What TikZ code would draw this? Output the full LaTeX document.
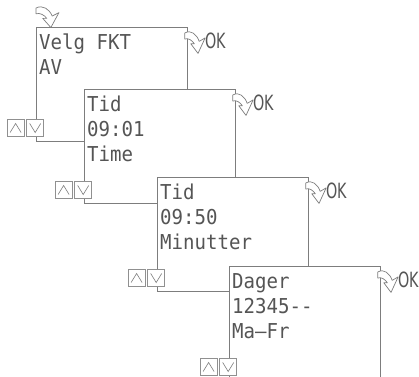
\documentclass[tikz,border=0pt]{standalone}
\usepackage{fontspec}
\usepackage{xcolor}
\usepackage{tikz}
\usetikzlibrary{positioning}
\newfontfamily\lcdfont[FakeStretch=0.93]{DejaVu Sans Mono}
\newfontfamily\okfont[FakeStretch=0.68]{DejaVu Sans}
\definecolor{lcdGray}{RGB}{125,125,125}
\definecolor{txtGray}{RGB}{85,85,85}

\tikzset{
  hook/.pic={
    \draw[lcdGray, line width=0.7pt, fill=white, line join=round]
      (0,0) .. controls (5,-3) and (10,1) .. (12,7) -- (17,4) -- (11,17)
      -- (5,9) -- (8,9) .. controls (6,6) and (3,4) .. (0,5) -- cycle;
  }
}

\begin{document}
\begin{tikzpicture}[
    x=1pt, y=-1pt,
    block/.style={rectangle, draw=lcdGray, fill=white, line width=0.8pt, minimum width=151pt, minimum height=114pt, inner sep=0pt, anchor=north west},
    lcdtext/.style={font=\lcdfont\fontsize{20.5}{25}\selectfont, text=txtGray, align=left, inner sep=0pt, anchor=north west},
    ok/.style={font=\okfont\fontsize{21}{25}\selectfont, text=txtGray, inner sep=0pt, anchor=base west},
    btn/.style={rectangle, draw=lcdGray!85, fill=white, line width=0.6pt, minimum size=17pt, inner sep=0pt},
    up/.style={btn, path picture={\draw[lcdGray, line width=0.6pt]
        ([xshift=3pt,yshift=4pt]path picture bounding box.south west)
        -- ([yshift=-4pt]path picture bounding box.north)
        -- ([xshift=-3pt,yshift=4pt]path picture bounding box.south east);}},
    down/.style={btn, path picture={\draw[lcdGray, line width=0.6pt]
        ([xshift=3pt,yshift=-4pt]path picture bounding box.north west)
        -- ([yshift=4pt]path picture bounding box.south)
        -- ([xshift=-3pt,yshift=-4pt]path picture bounding box.north east);}}
]
\useasboundingbox (0,0) rectangle (419,376);
\begin{scope}
\clip (0,0) rectangle (419,376);

% Entry arrow
\pic[xscale=1.35, yscale=1.15] at (36,8) {hook};

% Screens
\node[block] (b1) at (36,27) {};
\node[lcdtext] (t1) at ([xshift=3pt,yshift=-7pt]b1.north west) {Velg FKT\\AV};
\node[down, anchor=south east] (d1) at ([xshift=8pt,yshift=5pt]b1.south west) {};
\node[up, left=2pt of d1] (u1) {};

\node[block] (b2) at (84,89) {};
\node[lcdtext] (t2) at ([xshift=3pt,yshift=-7pt]b2.north west) {Tid\\09:01\\Time};
\node[down, anchor=south east] (d2) at ([xshift=8pt,yshift=5pt]b2.south west) {};
\node[up, left=2pt of d2] (u2) {};

\node[block] (b3) at (157,177) {};
\node[lcdtext] (t3) at ([xshift=3pt,yshift=-7pt]b3.north west) {Tid\\09:50\\Minutter};
\node[down, anchor=south east] (d3) at ([xshift=8pt,yshift=5pt]b3.south west) {};
\node[up, left=2pt of d3] (u3) {};

\node[block] (b4) at (229,266) {};
\node[lcdtext] (t4) at ([xshift=3pt,yshift=-7pt]b4.north west) {Dager\\12345-{}-\\Ma–Fr};
\node[down, anchor=south east] (d4) at ([xshift=8pt,yshift=5pt]b4.south west) {};
\node[up, left=2pt of d4] (u4) {};

% OK keys
\foreach \b in {1,...,4} {
  \pic[scale=1.2] at ([xshift=-3pt,yshift=-6pt]b\b.north east) {hook};
  \node[ok] (ok\b) at ([xshift=17pt,yshift=-21pt]b\b.north east) {OK};
}
\end{scope}
\end{tikzpicture}
\end{document}
